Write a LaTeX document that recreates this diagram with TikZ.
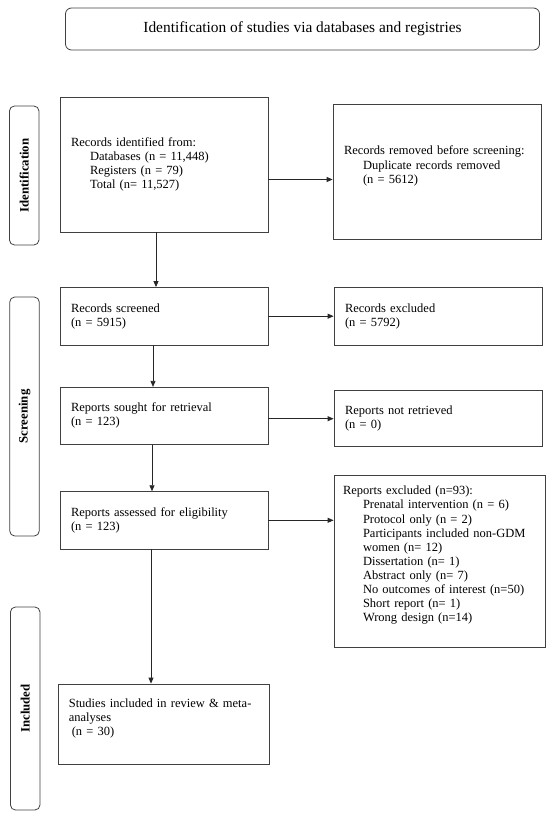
\documentclass[tikz,border=0pt]{standalone}
\usepackage{fontspec}
\setmainfont{Liberation Serif}
\usetikzlibrary{arrows.meta}

\begin{document}
\begin{tikzpicture}[x=1pt, y=-1pt, font=\fontsize{12.5}{14.1}\selectfont,
		box/.style={draw=black!75, line width=0.8pt, inner xsep=11pt, inner ysep=3pt, align=left},
		phase/.style={draw=black!75, line width=0.8pt, rounded corners=5pt, rotate=90, minimum height=29.5pt, font=\fontsize{12.8}{15}\selectfont\bfseries},
		arr/.style={draw=black!85, line width=0.8pt, -{Triangle[length=6pt, width=5pt]}}]
			\useasboundingbox (0, 0) rectangle (550, 818);

			\node[draw=black!75, line width=0.8pt, rounded corners=6pt, minimum width=474pt, minimum height=42pt, font=\fontsize{15.4}{17}\selectfont] (title) at (302.5, 29) {Identification of studies via databases and registries};

			\node[phase, minimum width=139pt] (pid)  at (24.2, 175.5) {Identification};
			\node[phase, minimum width=239pt] (pscr) at (24.5, 416.5) {Screening};
			\node[phase, minimum width=203pt] (pinc) at (25.2, 708.5) {Included};

			\node[box, text width=186pt, minimum height=135pt] (idf) at (164, 164.5) {Records identified from:\\ \hspace*{19pt}Databases (n = 11,448)\\ \hspace*{19pt}Registers (n = 79)\\ \hspace*{19pt}Total (n= 11,527)};
			\node[box, text width=186pt, minimum height=135pt] (rem) at (437, 171.7) {\mbox{Records removed before screening:}\\ \hspace*{19pt}Duplicate records removed\\ \hspace*{19pt}(n = 5612)\\ \mbox{}};
			\node[box, text width=186pt, minimum height=57.5pt] (scr) at (164, 316.2) {Records screened\\ (n = 5915)};
			\node[box, text width=186pt, minimum height=57.5pt] (exc) at (438, 316.2) {Records excluded\\ (n = 5792)};
			\node[box, text width=186pt, minimum height=57pt] (sou) at (164, 415.8) {Reports sought for retrieval\\ (n = 123)};
			\node[box, text width=186pt, minimum height=56pt] (nre) at (438, 418.7) {Reports not retrieved\\ (n = 0)};
			\node[box, text width=186pt, minimum height=57.3pt] (ass) at (164, 520.3) {Reports assessed for eligibility\\ (n = 123)};
			\node[box, inner xsep=9pt, text width=193pt, minimum height=172pt] (rex) at (439.5, 561) {Reports excluded (n=93):\\ \hspace*{20pt}Prenatal intervention (n = 6)\\ \hspace*{20pt}Protocol only (n = 2)\\ \hspace*{20pt}\mbox{Participants included non-GDM}\\ \hspace*{20pt}women (n= 12)\\ \hspace*{20pt}Dissertation (n= 1)\\ \hspace*{20pt}Abstract only (n= 7)\\ \hspace*{20pt}\mbox{No outcomes of interest (n=50)}\\ \hspace*{20pt}Short report (n= 1)\\ \hspace*{20pt}Wrong design (n=14)\\ \mbox{}};
			\node[box, inner xsep=10.8pt, text width=189.4pt, minimum height=80pt] (inc) at (163.5, 724) {\mbox{Studies included in review \& meta-}\\ analyses\\ \hspace*{3pt}(n = 30)\\ \mbox{}};

			% main flow downwards
			\foreach \u/\v/\s in {idf/scr/8, scr/sou/11, sou/ass/12, ass/inc/13}
			{	\draw[arr] ([xshift=-\s pt]\u.south) -- ([xshift=-\s pt]\u.south |- \v.north);}

			% side boxes
			\draw[arr] ([yshift=-15pt]idf.east) -- ([yshift=-15pt]idf.east -| rem.west);
			\draw[arr] (scr) -- (exc);
			\draw[arr] (sou.east |- nre) -- (nre);
			\draw[arr] (ass) -- (ass -| rex.west);
		\end{tikzpicture}
\end{document}
